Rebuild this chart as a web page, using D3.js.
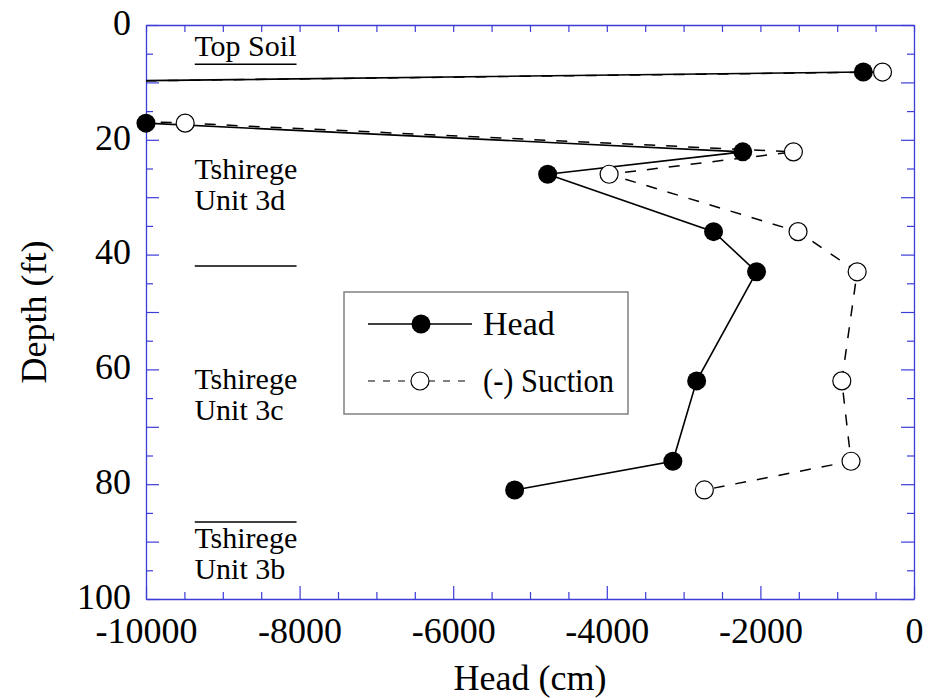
<!DOCTYPE html>
<html><head><meta charset="utf-8">
<script src="https://cdn.jsdelivr.net/npm/d3@7"></script>
<style>body{margin:0;background:#fff} text{font-family:"Liberation Serif","Times New Roman",Times,serif}</style>
</head><body><svg id="c" width="930" height="698"></svg>
<script>
// ---- data ----
const depths        = [8.2, 11.3, 17.1, 22.1, 26, 36, 43, 62, 76, 81];
const headValues    = [-660, -20000, -10000, -2230, -4770, -2610, -2050, -2830, -3140, -5200];
const suctionValues = [-410, -20000, -9490, -1570, -3970, -1510, -740, -940, -820, -2730];
const xTickLabels   = [-10000, -8000, -6000, -4000, -2000, 0];
const yTickLabels   = [0, 20, 40, 60, 80, 100];
const layerBoundaries = [6.85, 42, 86.6];
const layerNames = [["Top Soil"], ["Tshirege", "Unit 3d"], ["Tshirege", "Unit 3c"], ["Tshirege", "Unit 3b"]];
const seriesNames = ["Head", "(-) Suction"];

// ---- layout ----
const svg = d3.select("#c");
const L = 146, R = 914, T = 25, B = 599;
const x = d3.scaleLinear().domain([-10000, 0]).range([L, R]);
const y = d3.scaleLinear().domain([0, 100]).range([T, B]);
const axisColor = "#3c3cd8";
const fontBig = 36, fontSmall = 30;

svg.append("defs").append("clipPath").attr("id", "plotclip")
  .append("rect").attr("x", L).attr("y", T).attr("width", R - L).attr("height", B - T);

// ---- axes ----
function styleAxis(g) {
  g.selectAll("path.domain").attr("stroke", axisColor).attr("stroke-width", 1.3);
  g.selectAll(".tick line").attr("stroke", axisColor).attr("stroke-width", 1.2);
  g.selectAll(".tick text").attr("fill", "#000").attr("font-size", fontBig)
    .attr("font-family", '"Liberation Serif","Times New Roman",serif');
}
const xMinor = d3.range(-10000, 1, 500);
const yMinor = d3.range(0, 101, 5);

// bottom
const gB = svg.append("g").attr("transform", `translate(0,${B})`)
  .call(d3.axisBottom(x).tickValues(xMinor).tickSize(-7).tickSizeOuter(0).tickPadding(18)
    .tickFormat(d => xTickLabels.includes(d) ? String(d) : ""));
gB.selectAll(".tick line").attr("y2", d => (d % 2000 === 0) ? -13 : -7);
styleAxis(gB);
// top
const gT = svg.append("g").attr("transform", `translate(0,${T})`)
  .call(d3.axisTop(x).tickValues(xMinor).tickSize(-7).tickSizeOuter(0).tickFormat(""));
styleAxis(gT);
// left
const gL = svg.append("g").attr("transform", `translate(${L},0)`)
  .call(d3.axisLeft(y).tickValues(yMinor).tickSize(-7).tickSizeOuter(0).tickPadding(15)
    .tickFormat(d => yTickLabels.includes(d) ? String(d) : ""));
gL.selectAll(".tick line").attr("x2", d => (d % 10 === 0) ? 13 : 7);
gL.selectAll(".tick text").attr("dy", "0.26em");
styleAxis(gL);
// right
const gR = svg.append("g").attr("transform", `translate(${R},0)`)
  .call(d3.axisRight(y).tickValues(yMinor).tickSize(-7).tickSizeOuter(0).tickFormat(""));
gR.selectAll(".tick line").attr("x2", d => (d % 10 === 0) ? -13 : -7);
styleAxis(gR);

// axis titles
svg.append("text").attr("x", (L + R) / 2).attr("y", 690).attr("text-anchor", "middle")
  .attr("font-size", fontBig).text("Head (cm)");
svg.append("text").attr("transform", `translate(46,${(T + B) / 2}) rotate(-90)`)
  .attr("text-anchor", "middle").attr("font-size", fontBig).text("Depth (ft)");

// ---- layer annotations ----
const labelX = x(-9370);
const labelDepths = [5.35, 26.8, 63.4, 91.1];
const lineGap = 31;
layerNames.forEach((lines, i) => {
  const t = svg.append("text").attr("x", labelX).attr("y", y(labelDepths[i])).attr("font-size", fontSmall);
  lines.forEach((s, j) => t.append("tspan").attr("x", labelX).attr("dy", j === 0 ? 0 : lineGap).text(s));
});
svg.selectAll("line.layer").data(layerBoundaries).join("line").attr("class", "layer")
  .attr("x1", x(-9365)).attr("x2", x(-8040))
  .attr("y1", d => y(d)).attr("y2", d => y(d))
  .attr("stroke", "#000").attr("stroke-width", 1.5);

// ---- series ----
const headPts = depths.map((d, i) => ({ d, v: headValues[i] }));
const sucPts = depths.map((d, i) => ({ d, v: suctionValues[i] }));
const line = d3.line().x(p => x(p.v)).y(p => y(p.d));
const plot = svg.append("g").attr("clip-path", "url(#plotclip)");
plot.append("path").datum(sucPts).attr("d", line).attr("fill", "none")
  .attr("stroke", "#000").attr("stroke-width", 1.5).attr("stroke-dasharray", "11,11");
plot.append("path").datum(headPts).attr("d", line).attr("fill", "none")
  .attr("stroke", "#000").attr("stroke-width", 1.6);

const inDomain = p => p.v >= -10000 && p.v <= 0;
svg.selectAll("circle.suc").data(sucPts.filter(inDomain)).join("circle").attr("class", "suc")
  .attr("cx", p => x(p.v)).attr("cy", p => y(p.d)).attr("r", 9)
  .attr("fill", "#fff").attr("stroke", "#000").attr("stroke-width", 1.2);
svg.selectAll("circle.head").data(headPts.filter(inDomain)).join("circle").attr("class", "head")
  .attr("cx", p => x(p.v)).attr("cy", p => y(p.d)).attr("r", 9.5).attr("fill", "#000");

// ---- legend ----
const lg = svg.append("g");
lg.append("rect").attr("x", 344).attr("y", 292).attr("width", 284).attr("height", 122)
  .attr("fill", "#fff").attr("stroke", "#808080").attr("stroke-width", 1.5);
const rows = [324, 381];
lg.append("line").attr("x1", 368).attr("x2", 472).attr("y1", rows[0]).attr("y2", rows[0])
  .attr("stroke", "#000").attr("stroke-width", 1.6);
lg.append("circle").attr("cx", 421).attr("cy", rows[0]).attr("r", 9.5).attr("fill", "#000");
lg.append("line").attr("x1", 368).attr("x2", 472).attr("y1", rows[1]).attr("y2", rows[1])
  .attr("stroke", "#000").attr("stroke-width", 1.2).attr("stroke-dasharray", "7,8");
lg.append("circle").attr("cx", 420).attr("cy", rows[1]).attr("r", 9)
  .attr("fill", "#fff").attr("stroke", "#000").attr("stroke-width", 1.2);
seriesNames.forEach((s, i) => {
  const t = lg.append("text").attr("x", 483).attr("y", rows[i] + 11).attr("font-size", 34).text(s);
  if (i === 1) t.attr("textLength", 131).attr("lengthAdjust", "spacingAndGlyphs");
});
</script></body></html>
